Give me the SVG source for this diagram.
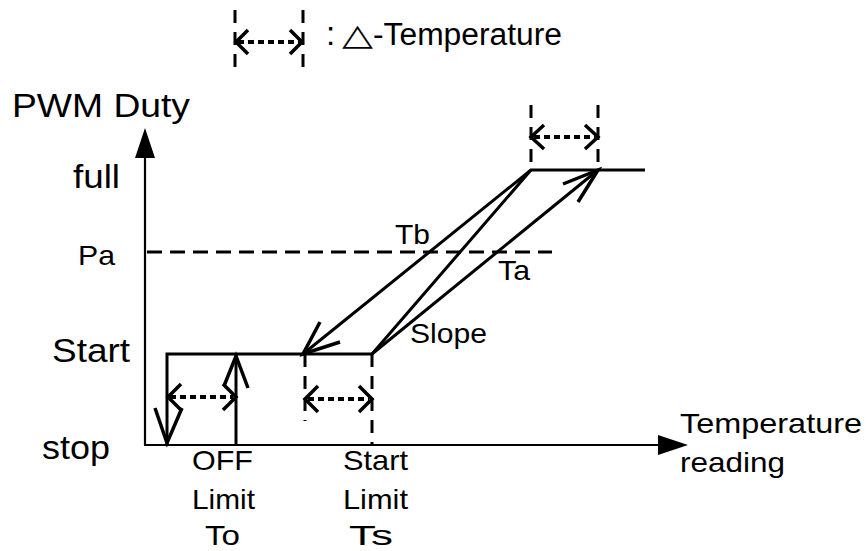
<svg xmlns="http://www.w3.org/2000/svg" width="866" height="551" viewBox="0 0 866 551">
<style>
text{font-family:"Liberation Sans",Arial,sans-serif;fill:#000}
.big{font-size:33px}
.sm{font-size:28px}
.ax{stroke:#000;stroke-width:2.2;fill:none}
.ln{stroke:#000;stroke-width:3;fill:none;stroke-linejoin:miter}
.dash{stroke:#000;stroke-width:3;fill:none;stroke-dasharray:13,9}
.dot{stroke:#000;stroke-width:4;fill:none;stroke-dasharray:6,4}
.head{stroke:#000;stroke-width:3.5;fill:none;stroke-linecap:butt;stroke-linejoin:miter}
</style>
<rect width="866" height="551" fill="#fff"/>
<g id="legend">
  <line class="dash" x1="235" y1="10" x2="235" y2="76"/>
  <line class="dash" x1="303" y1="10" x2="303" y2="76"/>
  <line class="dot" x1="238" y1="42" x2="300" y2="42"/>
  <polyline class="head" points="248,30 236,42 248,54"/>
  <polyline class="head" points="290,30 302,42 290,54"/>
  <text class="big" x="326" y="45" font-size="31">:</text>
  <text x="342" y="45" font-size="30" style="font-family:'DejaVu Sans',sans-serif" textLength="31" lengthAdjust="spacingAndGlyphs">△</text>
  <text x="373" y="45" font-size="31" textLength="189" lengthAdjust="spacingAndGlyphs">-Temperature</text>
</g>
<g id="axes">
  <line class="ax" x1="145" y1="156" x2="145" y2="445"/>
  <polygon points="145,128 135,158 155,158" fill="#000"/>
  <line class="ax" x1="144" y1="445" x2="660" y2="445"/>
  <polygon points="688,445 658,435 658,455" fill="#000"/>
</g>
<g id="labels">
  <text class="big" x="12" y="117" textLength="178" lengthAdjust="spacingAndGlyphs">PWM Duty</text>
  <text class="big" x="73" y="188" textLength="47" lengthAdjust="spacingAndGlyphs">full</text>
  <text class="sm" x="78" y="265" textLength="37" lengthAdjust="spacingAndGlyphs">Pa</text>
  <text class="big" x="52" y="362" textLength="78" lengthAdjust="spacingAndGlyphs">Start</text>
  <text class="big" x="42" y="459" textLength="68" lengthAdjust="spacingAndGlyphs">stop</text>
  <text class="sm" x="192" y="470" textLength="61" lengthAdjust="spacingAndGlyphs">OFF</text>
  <text class="sm" x="192" y="509" textLength="63" lengthAdjust="spacingAndGlyphs">Limit</text>
  <text class="sm" x="205" y="545" textLength="35" lengthAdjust="spacingAndGlyphs">To</text>
  <text class="sm" x="343" y="470" textLength="65" lengthAdjust="spacingAndGlyphs">Start</text>
  <text class="sm" x="343" y="509" textLength="65" lengthAdjust="spacingAndGlyphs">Limit</text>
  <text class="sm" x="349" y="545" textLength="44" lengthAdjust="spacingAndGlyphs">Ts</text>
  <text class="sm" x="395" y="244" textLength="35" lengthAdjust="spacingAndGlyphs">Tb</text>
  <text class="sm" x="498" y="280" textLength="32" lengthAdjust="spacingAndGlyphs">Ta</text>
  <text class="sm" x="410" y="343" textLength="77" lengthAdjust="spacingAndGlyphs">Slope</text>
  <text class="sm" x="680" y="433" textLength="182" lengthAdjust="spacingAndGlyphs">Temperature</text>
  <text class="sm" x="680" y="472" textLength="105" lengthAdjust="spacingAndGlyphs">reading</text>
</g>
<g id="connectors">
  <line class="dash" x1="147" y1="252" x2="552" y2="252" style="stroke-dasharray:15,8"/>
  <polyline class="ln" points="167,445 167,354 372,354 531,170 645,170"/>
  <line class="ln" x1="236" y1="445" x2="236" y2="354"/>
  <line class="ln" x1="531" y1="170" x2="303" y2="354"/>
  <line class="ln" x1="372" y1="354" x2="598" y2="170"/>
  <polyline class="head" points="320,322 303,354 340,342"/>
  <polyline class="head" points="563,184 598,170 578,202"/>
  <polyline class="head" points="155,408 167,443 182,408"/>
  <polyline class="head" points="224,386 236,356 248,388"/>
  <line class="dash" x1="305" y1="354" x2="305" y2="421"/>
  <line class="dash" x1="372" y1="354" x2="372" y2="445"/>
  <line class="dash" x1="531" y1="105" x2="531" y2="170"/>
  <line class="dash" x1="598" y1="105" x2="598" y2="170"/>
  <line class="dot" x1="170" y1="397" x2="233" y2="397"/>
  <polyline class="head" points="181,384 168,397 181,410"/>
  <polyline class="head" points="223,384 236,397 223,410"/>
  <line class="dot" x1="308" y1="399" x2="369" y2="399"/>
  <polyline class="head" points="318,386 305,399 318,412"/>
  <polyline class="head" points="359,386 372,399 359,412"/>
  <line class="dot" x1="534" y1="137" x2="595" y2="137"/>
  <polyline class="head" points="544,125 531,137 544,149"/>
  <polyline class="head" points="585,125 598,137 585,149"/>
</g>
</svg>
